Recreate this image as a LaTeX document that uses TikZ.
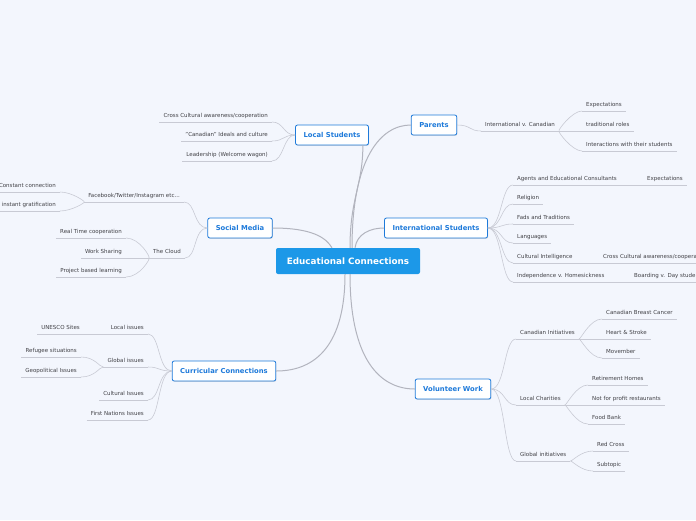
\documentclass[tikz,border=0pt]{standalone}
\usepackage{fontspec}
\setmainfont{DejaVu Sans}
\usetikzlibrary{shadows}
\definecolor{BgClr}{RGB}{243,246,253}
\definecolor{CenterClr}{RGB}{28,152,232}
\definecolor{TopicClr}{RGB}{30,122,218}
\definecolor{LineClr}{RGB}{178,180,190}
\definecolor{SubLineClr}{RGB}{200,202,212}
\definecolor{TextClr}{RGB}{65,65,70}

\begin{document}
\begin{tikzpicture}[x=1pt,y=-1pt,
  Center/.style={fill=CenterClr,text=white,rounded corners=2pt,minimum width=144pt,minimum height=26pt,
    font=\bfseries\fontsize{8.8}{10}\selectfont},
  Topic/.style={draw=TopicClr,line width=0.8pt,fill=white,text=TopicClr,rounded corners=2pt,
    minimum height=20pt,inner xsep=8pt,font=\bfseries\fontsize{6.8}{8}\selectfont,
    drop shadow={shadow xshift=0.6pt,shadow yshift=-0.8pt,opacity=0.25}},
  Sub/.style={text=TextClr,font=\fontsize{5.5}{6.5}\selectfont,inner xsep=4pt,inner ysep=3pt,
    text height=4.3pt,text depth=1.1pt,
    append after command={(\tikzlastnode.south west) edge[SubLineClr,line width=0.6pt] (\tikzlastnode.south east)}},
  MainConn/.style={LineClr,line width=1pt},
  Conn/.style={SubLineClr,line width=0.6pt}]

\useasboundingbox (0,0) rectangle (696,520);
\clip (0,0) rectangle (696,520);
\fill[BgClr] (0,0) rectangle (696,520);

% main ideas
\node[Center] (cen) at (348,261) {Educational Connections};
\node[Topic] (ls) at (332,135) {Local Students};
\node[Topic] (par) at (434,125) {Parents};
\node[Topic] (sm) at (240,228) {Social Media};
\node[Topic] (is) at (436,228) {International Students};
\node[Topic] (cc) at (224,371) {Curricular Connections};
\node[Topic] (vw) at (453,389) {Volunteer Work};

\draw[MainConn] ([xshift=2pt]cen.north) .. controls +(0,-50) and +(0,40) .. ([xshift=-6pt]ls.south east);
\draw[MainConn] ([xshift=4pt]cen.north) .. controls +(0,-90) and +(-30,0) .. (par.west);
\draw[MainConn] ([xshift=-16pt]cen.north) .. controls +(-6,-10) and +(40,0) .. (sm.east);
\draw[MainConn] ([xshift=7pt]cen.north) .. controls +(2,-14) and +(-14,0) .. (is.west);
\draw[MainConn] ([xshift=-3pt]cen.south) .. controls +(0,70) and +(40,0) .. (cc.east);
\draw[MainConn] ([xshift=2pt]cen.south) .. controls +(0,85) and +(-35,0) .. (vw.west);

% Local Students
\node[Sub,anchor=south east] (ls1) at (272,122) {Cross Cultural awareness/cooperation};
\node[Sub,anchor=south east] (ls2) at (272,141) {"Canadian" Ideals and culture};
\node[Sub,anchor=south east] (ls3) at (272,161) {Leadership (Welcome wagon)};
\draw[Conn] (ls.west) .. controls +(-12,0) and +(12,0) .. (ls1.south east);
\draw[Conn] (ls.west) .. controls +(-12,0) and +(12,0) .. (ls2.south east);
\draw[Conn] (ls.west) .. controls +(-12,0) and +(12,0) .. (ls3.south east);

% Parents
\node[Sub,anchor=south west] (par1) at (481,131) {International v. Canadian};
\node[Sub,anchor=south west] (par11) at (582,111) {Expectations};
\node[Sub,anchor=south west] (par12) at (582,131) {traditional roles};
\node[Sub,anchor=south west] (par13) at (582,151) {Interactions with their students};
\draw[Conn] (par.east) .. controls +(14,0) and +(-12,0) .. (par1.south west);
\draw[Conn] (par1.south east) .. controls +(-2,0) and +(-10,0) .. (par11.south west);
\draw[Conn] (par1.south east) -- (par12.south west);
\draw[Conn] (par1.south east) .. controls +(-2,0) and +(-10,0) .. (par13.south west);

% Social Media
\node[Sub,anchor=south east] (sm1) at (184,202) {Facebook/Twitter/Instagram etc...};
\node[Sub,anchor=south east] (sm11) at (60,192) {Constant connection};
\node[Sub,anchor=south east] (sm12) at (60,211) {instant gratification};
\node[Sub,anchor=south east] (sm2) at (185,258) {The Cloud};
\node[Sub,anchor=south east] (sm21) at (126,238) {Real Time cooperation};
\node[Sub,anchor=south east] (sm22) at (126,258) {Work Sharing};
\node[Sub,anchor=south east] (sm23) at (126,277) {Project based learning};
\draw[Conn] (sm.west) .. controls +(-14,0) and +(12,0) .. (sm1.south east);
\draw[Conn] (sm.west) .. controls +(-14,0) and +(12,0) .. (sm2.south east);
\draw[Conn] (sm1.south west) .. controls +(2,0) and +(12,0) .. (sm11.south east);
\draw[Conn] (sm1.south west) .. controls +(2,0) and +(12,0) .. (sm12.south east);
\draw[Conn] (sm2.south west) .. controls +(2,0) and +(14,0) .. (sm21.south east);
\draw[Conn] (sm2.south west) -- (sm22.south east);
\draw[Conn] (sm2.south west) .. controls +(2,0) and +(14,0) .. (sm23.south east);

% International Students
\node[Sub,anchor=south west] (is1) at (513,185) {Agents and Educational Consultants};
\node[Sub,anchor=south west] (is11) at (643,185) {Expectations};
\node[Sub,anchor=south west] (is2) at (513,204) {Religion};
\node[Sub,anchor=south west] (is3) at (513,224) {Fads and Traditions};
\node[Sub,anchor=south west] (is4) at (513,243) {Languages};
\node[Sub,anchor=south west] (is5) at (513,263) {Cultural Intelligence};
\node[Sub,anchor=south west] (is51) at (599,263) {Cross Cultural awareness/cooperation};
\node[Sub,anchor=south west] (is6) at (513,282) {Independence v. Homesickness};
\node[Sub,anchor=south west] (is61) at (630,282) {Boarding v. Day students};
\foreach \n in {is1,is2,is3,is4,is5,is6}
  \draw[Conn] (is.east) .. controls +(14,0) and +(-12,0) .. (\n.south west);
\draw[Conn] (is1.south east) -- (is11.south west);
\draw[Conn] (is5.south east) -- (is51.south west);
\draw[Conn] (is6.south east) -- (is61.south west);

% Curricular Connections
\node[Sub,anchor=south east] (cc1) at (148,334) {Local issues};
\node[Sub,anchor=south east] (cc11) at (84,334) {UNESCO Sites};
\node[Sub,anchor=south east] (cc2) at (148,367) {Global issues};
\node[Sub,anchor=south east] (cc21) at (81,357) {Refugee situations};
\node[Sub,anchor=south east] (cc22) at (81,377) {Geopolitical Issues};
\node[Sub,anchor=south east] (cc3) at (148,400) {Cultural Issues};
\node[Sub,anchor=south east] (cc4) at (148,420) {First Nations Issues};
\foreach \n in {cc1,cc2,cc3,cc4}
  \draw[Conn] (cc.west) .. controls +(-14,0) and +(12,0) .. (\n.south east);
\draw[Conn] (cc1.south west) -- (cc11.south east);
\draw[Conn] (cc2.south west) .. controls +(-4,0) and +(14,0) .. (cc21.south east);
\draw[Conn] (cc2.south west) .. controls +(-4,0) and +(14,0) .. (cc22.south east);

% Volunteer Work
\node[Sub,anchor=south west] (vw1) at (516,339) {Canadian Initiatives};
\node[Sub,anchor=south west] (vw11) at (602,319) {Canadian Breast Cancer};
\node[Sub,anchor=south west] (vw12) at (602,339) {Heart \& Stroke};
\node[Sub,anchor=south west] (vw13) at (602,358) {Movember};
\node[Sub,anchor=south west] (vw2) at (516,405) {Local Charities};
\node[Sub,anchor=south west] (vw21) at (588,385) {Retirement Homes};
\node[Sub,anchor=south west] (vw22) at (588,405) {Not for profit restaurants};
\node[Sub,anchor=south west] (vw23) at (588,424) {Food Bank};
\node[Sub,anchor=south west] (vw3) at (516,461) {Global initiatives};
\node[Sub,anchor=south west] (vw31) at (593,451) {Red Cross};
\node[Sub,anchor=south west] (vw32) at (593,471) {Subtopic};
\foreach \n in {vw1,vw2,vw3}
  \draw[Conn] (vw.east) .. controls +(14,0) and +(-12,0) .. (\n.south west);
\draw[Conn] (vw1.south east) .. controls +(2,0) and +(-12,0) .. (vw11.south west);
\draw[Conn] (vw1.south east) -- (vw12.south west);
\draw[Conn] (vw1.south east) .. controls +(2,0) and +(-12,0) .. (vw13.south west);
\draw[Conn] (vw2.south east) .. controls +(2,0) and +(-12,0) .. (vw21.south west);
\draw[Conn] (vw2.south east) -- (vw22.south west);
\draw[Conn] (vw2.south east) .. controls +(2,0) and +(-12,0) .. (vw23.south west);
\draw[Conn] (vw3.south east) .. controls +(2,0) and +(-12,0) .. (vw31.south west);
\draw[Conn] (vw3.south east) .. controls +(2,0) and +(-12,0) .. (vw32.south west);

\end{tikzpicture}
\end{document}
